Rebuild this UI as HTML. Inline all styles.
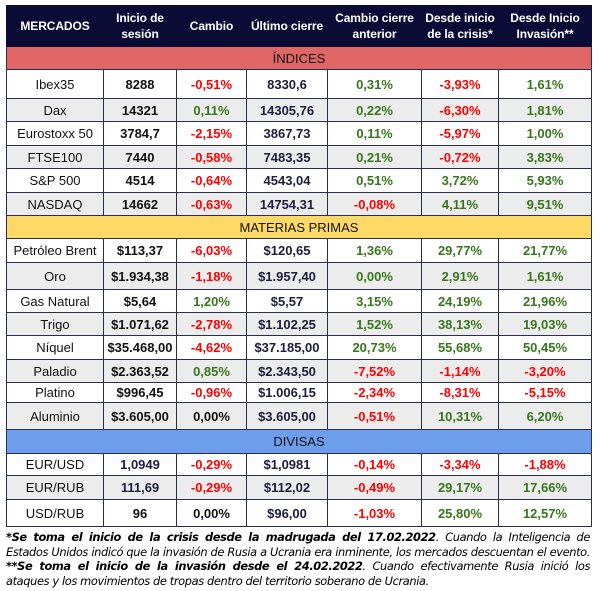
<!DOCTYPE html>
<html><head><meta charset="utf-8"><style>
body{margin:0;background:#fff;width:600px;height:591px;overflow:hidden;font-family:"Liberation Sans",Arial,sans-serif;}
table{position:absolute;left:6px;top:5px;border-collapse:collapse;table-layout:fixed;width:585px;}
td,th{border:1px solid #2b2d4f;text-align:center;padding:0;font-size:13px;color:#111;white-space:nowrap;overflow:hidden;}
th{background:#0b0c35;color:#fff;font-weight:bold;font-size:12px;line-height:16px;border-color:#0b0c35;letter-spacing:-0.1px;}
.b{font-weight:bold;}
.r{color:#f00;font-weight:bold;}
.g{color:#38761d;font-weight:bold;}
.n{color:#1c1c3c;font-weight:bold;}
tr.gr td{background:#ececec;}
.red td{background:#e06666;}
.yel td{background:#ffd966;}
.blu td{background:#6d9eeb;}
.foot{position:absolute;left:6px;width:584px;font-family:"DejaVu Sans",sans-serif;font-style:italic;font-size:11.4px;line-height:14px;color:#000;text-align:justify;text-align-last:justify;white-space:nowrap;letter-spacing:-0.38px;}
.foot b{font-weight:bold;}
</style></head><body>
<table>
<colgroup><col style="width:97px"><col style="width:73px"><col style="width:70px"><col style="width:81px"><col style="width:94px"><col style="width:77px"><col style="width:93px"></colgroup>
<tr style="height:41px"><th>MERCADOS</th><th>Inicio de<br>sesión</th><th>Cambio</th><th>Último cierre</th><th>Cambio cierre<br>anterior</th><th>Desde inicio<br>de la crisis*</th><th>Desde Inicio<br>Invasión**</th></tr>
<tr class="red" style="height:23px"><td colspan="7">ÍNDICES</td></tr>
<tr style="height:29px"><td>Ibex35</td><td class="b">8288</td><td class="r">-0,51%</td><td class="n">8330,6</td><td class="g">0,31%</td><td class="r">-3,93%</td><td class="g">1,61%</td></tr>
<tr class="gr" style="height:23px"><td>Dax</td><td class="b">14321</td><td class="g">0,11%</td><td class="n">14305,76</td><td class="g">0,22%</td><td class="r">-6,30%</td><td class="g">1,81%</td></tr>
<tr style="height:24px"><td>Eurostoxx 50</td><td class="b">3784,7</td><td class="r">-2,15%</td><td class="n">3867,73</td><td class="g">0,11%</td><td class="r">-5,97%</td><td class="g">1,00%</td></tr>
<tr class="gr" style="height:23px"><td>FTSE100</td><td class="b">7440</td><td class="r">-0,58%</td><td class="n">7483,35</td><td class="g">0,21%</td><td class="r">-0,72%</td><td class="g">3,83%</td></tr>
<tr style="height:24px"><td>S&amp;P 500</td><td class="b">4514</td><td class="r">-0,64%</td><td class="n">4543,04</td><td class="g">0,51%</td><td class="g">3,72%</td><td class="g">5,93%</td></tr>
<tr class="gr" style="height:23px"><td>NASDAQ</td><td class="b">14662</td><td class="r">-0,63%</td><td class="n">14754,31</td><td class="r">-0,08%</td><td class="g">4,11%</td><td class="g">9,51%</td></tr>
<tr class="yel" style="height:23px"><td colspan="7">MATERIAS PRIMAS</td></tr>
<tr style="height:24px"><td>Petróleo Brent</td><td class="b">$113,37</td><td class="r">-6,03%</td><td class="n">$120,65</td><td class="g">1,36%</td><td class="g">29,77%</td><td class="g">21,77%</td></tr>
<tr class="gr" style="height:27px"><td>Oro</td><td class="b">$1.934,38</td><td class="r">-1,18%</td><td class="n">$1.957,40</td><td class="g">0,00%</td><td class="g">2,91%</td><td class="g">1,61%</td></tr>
<tr style="height:23px"><td>Gas Natural</td><td class="b">$5,64</td><td class="g">1,20%</td><td class="n">$5,57</td><td class="g">3,15%</td><td class="g">24,19%</td><td class="g">21,96%</td></tr>
<tr class="gr" style="height:23px"><td>Trigo</td><td class="b">$1.071,62</td><td class="r">-2,78%</td><td class="n">$1.102,25</td><td class="g">1,52%</td><td class="g">38,13%</td><td class="g">19,03%</td></tr>
<tr style="height:24px"><td>Níquel</td><td class="b">$35.468,00</td><td class="r">-4,62%</td><td class="n">$37.185,00</td><td class="g">20,73%</td><td class="g">55,68%</td><td class="g">50,45%</td></tr>
<tr class="gr" style="height:23px"><td>Paladio</td><td class="b">$2.363,52</td><td class="g">0,85%</td><td class="n">$2.343,50</td><td class="r">-7,52%</td><td class="r">-1,14%</td><td class="r">-3,20%</td></tr>
<tr style="height:20px"><td>Platino</td><td class="b">$996,45</td><td class="r">-0,96%</td><td class="n">$1.006,15</td><td class="r">-2,34%</td><td class="r">-8,31%</td><td class="r">-5,15%</td></tr>
<tr class="gr" style="height:27px"><td>Aluminio</td><td class="b">$3.605,00</td><td class="b">0,00%</td><td class="n">$3.605,00</td><td class="r">-0,51%</td><td class="g">10,31%</td><td class="g">6,20%</td></tr>
<tr class="blu" style="height:24px"><td colspan="7">DIVISAS</td></tr>
<tr style="height:22px"><td>EUR/USD</td><td class="n">1,0949</td><td class="r">-0,29%</td><td class="n">$1,0981</td><td class="r">-0,14%</td><td class="r">-3,34%</td><td class="r">-1,88%</td></tr>
<tr class="gr" style="height:24px"><td>EUR/RUB</td><td class="n">111,69</td><td class="r">-0,29%</td><td class="n">$112,02</td><td class="r">-0,49%</td><td class="g">29,17%</td><td class="g">17,66%</td></tr>
<tr style="height:27px"><td>USD/RUB</td><td class="b">96</td><td class="b">0,00%</td><td class="n">$96,00</td><td class="r">-1,03%</td><td class="g">25,80%</td><td class="g">12,57%</td></tr>
</table>
<div class="foot" style="top:530px"><b>*Se toma el inicio de la crisis desde la madrugada del 17.02.2022</b>. Cuando la Inteligencia de</div>
<div class="foot" style="top:545px">Estados Unidos indicó que la invasión de Rusia a Ucrania era inminente, los mercados descuentan el evento.</div>
<div class="foot" style="top:559px"><b>**Se toma el inicio de la invasión desde el 24.02.2022</b>. Cuando efectivamente Rusia inició los</div>
<div class="foot" style="top:574px;text-align-last:left">ataques y los movimientos de tropas dentro del territorio soberano de Ucrania.</div>
</body></html>
